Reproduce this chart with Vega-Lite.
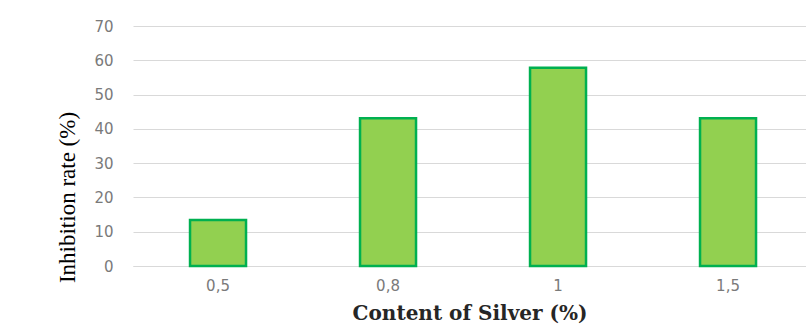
{
  "$schema": "https://vega.github.io/schema/vega-lite/v6.json",
  "autosize": {"type": "none"},
  "padding": {"left": 133, "top": 26, "right": 0, "bottom": 61},
  "width": 673,
  "height": 240,
  "background": "white",
  "config": {"view": {"stroke": null}},
  "data": {
    "values": [
      {"silver": "0,5", "rate": 13.4},
      {"silver": "0,8", "rate": 43.1},
      {"silver": "1", "rate": 57.8},
      {"silver": "1,5", "rate": 43.1}
    ]
  },
  "mark": {"type": "bar", "fill": "#92D050", "stroke": "#00B050", "strokeWidth": 2.5},
  "encoding": {
    "x": {
      "field": "silver",
      "type": "ordinal",
      "sort": null,
      "scale": {"paddingInner": 0.6706, "paddingOuter": 0.3147, "align": 0.533},
      "axis": {
        "title": "Content of Silver (%)",
        "titleFont": "DejaVu Serif",
        "titleFontSize": 20,
        "titleFontWeight": "bold",
        "titleColor": "#262626",
        "titleY": 47,
        "titleBaseline": "middle",
        "labelAngle": 0,
        "labelFont": "DejaVu Sans",
        "labelFontSize": 15,
        "labelColor": "#7a7a7a",
        "labelPadding": 12,
        "ticks": false,
        "domain": true,
        "domainColor": "#d9d9d9",
        "domainWidth": 1
      }
    },
    "y": {
      "field": "rate",
      "type": "quantitative",
      "scale": {"domain": [0, 70]},
      "axis": {
        "title": "Inhibition rate (%)",
        "titleFont": "Liberation Serif",
        "titleFontSize": 23,
        "titleFontWeight": "normal",
        "titleColor": "#000000",
        "titleX": -66,
        "titleY": 171,
        "titleAngle": -90,
        "titleAlign": "center",
        "titleBaseline": "middle",
        "values": [0, 10, 20, 30, 40, 50, 60, 70],
        "labelFont": "DejaVu Sans",
        "labelFontSize": 15,
        "labelColor": "#7a7a7a",
        "labelPadding": 20,
        "ticks": false,
        "domain": false,
        "grid": true,
        "gridColor": "#d9d9d9",
        "gridWidth": 1
      }
    }
  }
}
